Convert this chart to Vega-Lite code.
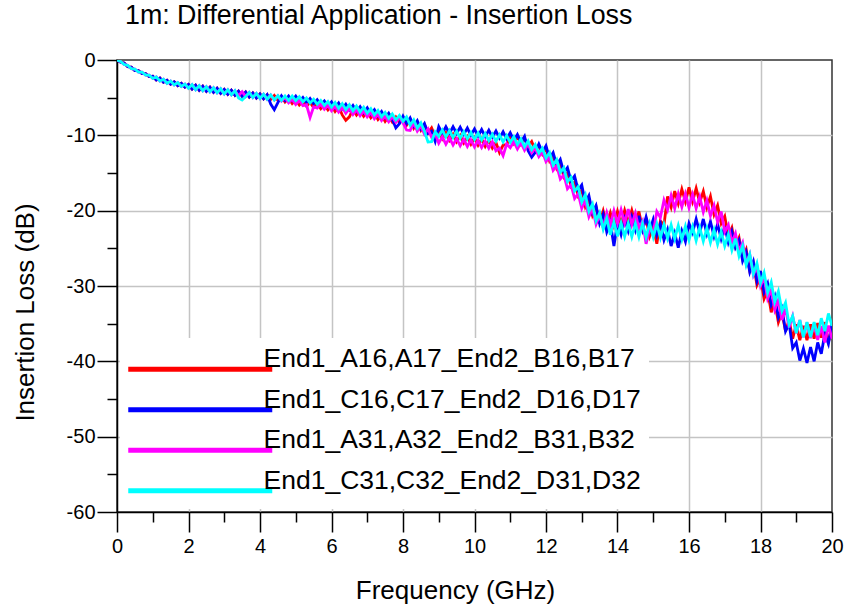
{
  "$schema": "https://vega.github.io/schema/vega-lite/v6.json",
  "autosize": {"type": "none"},
  "width": 715,
  "height": 452,
  "padding": {"left": 117, "top": 60, "right": 15, "bottom": 98},
  "background": "white",
  "title": {"text": "1m: Differential Application - Insertion Loss", "anchor": "start", "frame": "group", "fontSize": 26.8, "fontWeight": "normal", "font": "Liberation Sans", "color": "black", "dx": 8, "offset": -1, "baseline": "alphabetic"},
  "config": {
    "font": "Liberation Sans",
    "view": {"stroke": "#333333", "strokeWidth": 1.5}
  },
  "data": {"values": [
    {"f":0.0,"a":0,"b":0,"c":0,"d":0},
    {"f":0.1,"a":-0.3,"b":-0.3,"c":-0.2,"d":-0.2},
    {"f":0.2,"a":-0.4,"b":-0.4,"c":-0.6,"d":-0.6},
    {"f":0.3,"a":-0.9,"b":-0.9,"c":-0.7,"d":-0.7},
    {"f":0.4,"a":-0.95,"b":-0.95,"c":-1.15,"d":-1.15},
    {"f":0.5,"a":-1.4,"b":-1.4,"c":-1.2,"d":-1.2},
    {"f":0.6,"a":-1.4,"b":-1.4,"c":-1.6,"d":-1.6},
    {"f":0.7,"a":-1.8,"b":-1.8,"c":-1.6,"d":-1.6},
    {"f":0.8,"a":-1.8,"b":-1.8,"c":-2.0,"d":-2.0},
    {"f":0.9,"a":-2.2,"b":-2.2,"c":-2.0,"d":-2.0},
    {"f":1.0,"a":-2.15,"b":-2.15,"c":-2.45,"d":-2.45},
    {"f":1.1,"a":-2.65,"b":-2.65,"c":-2.25,"d":-2.25},
    {"f":1.2,"a":-2.4,"b":-2.4,"c":-2.8,"d":-2.8},
    {"f":1.3,"a":-2.95,"b":-2.95,"c":-2.55,"d":-2.55},
    {"f":1.4,"a":-2.7,"b":-2.7,"c":-3.1,"d":-3.1},
    {"f":1.5,"a":-3.2,"b":-3.2,"c":-2.8,"d":-2.8},
    {"f":1.6,"a":-2.9,"b":-2.9,"c":-3.3,"d":-3.3},
    {"f":1.7,"a":-3.4,"b":-3.4,"c":-3.0,"d":-3.0},
    {"f":1.8,"a":-3.1,"b":-3.1,"c":-3.5,"d":-3.5},
    {"f":1.9,"a":-3.6,"b":-3.6,"c":-3.2,"d":-3.2},
    {"f":2.0,"a":-3.25,"b":-3.25,"c":-3.75,"d":-3.75},
    {"f":2.1,"a":-3.87,"b":-3.87,"c":-3.27,"d":-3.27},
    {"f":2.2,"a":-3.34,"b":-3.34,"c":-3.94,"d":-3.94},
    {"f":2.3,"a":-4.01,"b":-4.01,"c":-3.41,"d":-3.41},
    {"f":2.4,"a":-3.48,"b":-3.48,"c":-4.08,"d":-4.08},
    {"f":2.5,"a":-4.15,"b":-4.15,"c":-3.55,"d":-3.55},
    {"f":2.6,"a":-3.62,"b":-3.62,"c":-4.22,"d":-4.22},
    {"f":2.7,"a":-4.29,"b":-4.29,"c":-3.69,"d":-3.69},
    {"f":2.8,"a":-3.76,"b":-3.76,"c":-4.36,"d":-4.36},
    {"f":2.9,"a":-4.43,"b":-4.43,"c":-3.83,"d":-3.83},
    {"f":3.0,"a":-3.9,"b":-3.9,"c":-4.5,"d":-4.5},
    {"f":3.1,"a":-4.56,"b":-4.56,"c":-3.96,"d":-3.96},
    {"f":3.2,"a":-4.02,"b":-4.02,"c":-4.62,"d":-4.62},
    {"f":3.3,"a":-4.68,"b":-4.68,"c":-4.08,"d":-4.08},
    {"f":3.4,"a":-4.14,"b":-4.14,"c":-4.74,"d":-5.04},
    {"f":3.5,"a":-4.8,"b":-4.8,"c":-4.2,"d":-5.3},
    {"f":3.6,"a":-4.26,"b":-4.26,"c":-4.86,"d":-4.86},
    {"f":3.7,"a":-4.92,"b":-4.92,"c":-4.32,"d":-4.32},
    {"f":3.8,"a":-4.38,"b":-4.38,"c":-4.98,"d":-4.98},
    {"f":3.9,"a":-5.04,"b":-5.04,"c":-4.44,"d":-4.44},
    {"f":4.0,"a":-4.5,"b":-4.5,"c":-5.1,"d":-5.1},
    {"f":4.1,"a":-5.15,"b":-5.15,"c":-4.55,"d":-4.55},
    {"f":4.2,"a":-4.6,"b":-4.6,"c":-5.2,"d":-5.2},
    {"f":4.3,"a":-5.25,"b":-5.85,"c":-4.65,"d":-4.65},
    {"f":4.4,"a":-4.7,"b":-6.6,"c":-5.3,"d":-5.3},
    {"f":4.5,"a":-5.35,"b":-5.65,"c":-4.75,"d":-4.75},
    {"f":4.6,"a":-4.86,"b":-4.76,"c":-5.46,"d":-5.36},
    {"f":4.7,"a":-5.57,"b":-5.37,"c":-4.97,"d":-4.77},
    {"f":4.8,"a":-5.08,"b":-4.78,"c":-5.68,"d":-5.38},
    {"f":4.9,"a":-5.79,"b":-5.39,"c":-5.19,"d":-4.79},
    {"f":5.0,"a":-5.3,"b":-4.8,"c":-5.9,"d":-5.4},
    {"f":5.1,"a":-5.98,"b":-5.48,"c":-5.38,"d":-4.88},
    {"f":5.2,"a":-5.46,"b":-4.96,"c":-6.06,"d":-5.56},
    {"f":5.3,"a":-6.14,"b":-5.64,"c":-5.94,"d":-5.04},
    {"f":5.4,"a":-5.62,"b":-5.12,"c":-7.62,"d":-5.72},
    {"f":5.5,"a":-6.3,"b":-5.8,"c":-6.2,"d":-5.2},
    {"f":5.6,"a":-5.78,"b":-5.28,"c":-6.38,"d":-5.88},
    {"f":5.7,"a":-6.46,"b":-5.96,"c":-5.86,"d":-5.36},
    {"f":5.8,"a":-5.94,"b":-5.44,"c":-6.54,"d":-6.04},
    {"f":5.9,"a":-6.62,"b":-6.12,"c":-6.02,"d":-5.52},
    {"f":6.0,"a":-6.05,"b":-5.55,"c":-6.75,"d":-6.25},
    {"f":6.1,"a":-6.83,"b":-6.33,"c":-6.13,"d":-5.63},
    {"f":6.2,"a":-6.21,"b":-5.71,"c":-6.91,"d":-6.41},
    {"f":6.3,"a":-7.29,"b":-6.49,"c":-6.29,"d":-5.79},
    {"f":6.4,"a":-8.0,"b":-5.87,"c":-7.07,"d":-6.57},
    {"f":6.5,"a":-7.55,"b":-6.65,"c":-6.45,"d":-5.95},
    {"f":6.6,"a":-6.53,"b":-6.03,"c":-7.23,"d":-6.73},
    {"f":6.7,"a":-7.31,"b":-6.81,"c":-6.61,"d":-6.11},
    {"f":6.8,"a":-6.69,"b":-6.19,"c":-7.39,"d":-6.89},
    {"f":6.9,"a":-7.47,"b":-6.97,"c":-6.77,"d":-6.27},
    {"f":7.0,"a":-6.85,"b":-6.35,"c":-7.55,"d":-7.05},
    {"f":7.1,"a":-7.67,"b":-7.17,"c":-6.97,"d":-6.47},
    {"f":7.2,"a":-7.09,"b":-6.59,"c":-7.79,"d":-7.29},
    {"f":7.3,"a":-7.91,"b":-7.41,"c":-7.21,"d":-6.71},
    {"f":7.4,"a":-7.33,"b":-6.83,"c":-8.03,"d":-7.53},
    {"f":7.5,"a":-8.15,"b":-7.65,"c":-7.45,"d":-6.95},
    {"f":7.6,"a":-7.49,"b":-7.05,"c":-8.19,"d":-7.75},
    {"f":7.7,"a":-8.23,"b":-7.85,"c":-7.53,"d":-7.15},
    {"f":7.8,"a":-7.57,"b":-9.0,"c":-8.27,"d":-7.95},
    {"f":7.9,"a":-8.31,"b":-8.45,"c":-7.61,"d":-7.35},
    {"f":8.0,"a":-7.65,"b":-7.45,"c":-8.35,"d":-8.15},
    {"f":8.1,"a":-8.65,"b":-8.42,"c":-9.3,"d":-7.55},
    {"f":8.2,"a":-7.95,"b":-7.68,"c":-9.35,"d":-8.65},
    {"f":8.3,"a":-9.05,"b":-8.75,"c":-8.35,"d":-7.95},
    {"f":8.4,"a":-8.28,"b":-8.05,"c":-9.45,"d":-9.05},
    {"f":8.5,"a":-9.32,"b":-9.15,"c":-8.75,"d":-8.35},
    {"f":8.6,"a":-8.55,"b":-8.45,"c":-9.85,"d":-9.45},
    {"f":8.7,"a":-9.67,"b":-9.75,"c":-9.15,"d":-10.9},
    {"f":8.8,"a":-9.0,"b":-9.45,"c":-10.25,"d":-10.85},
    {"f":8.9,"a":-10.12,"b":-10.8,"c":-9.75,"d":-9.55},
    {"f":9.0,"a":-9.45,"b":-8.85,"c":-11.05,"d":-10.15},
    {"f":9.1,"a":-10.45,"b":-9.75,"c":-10.21,"d":-9.29},
    {"f":9.2,"a":-9.65,"b":-8.85,"c":-11.17,"d":-10.23},
    {"f":9.3,"a":-10.65,"b":-9.75,"c":-10.33,"d":-9.37},
    {"f":9.4,"a":-9.85,"b":-8.85,"c":-11.29,"d":-10.31},
    {"f":9.5,"a":-10.85,"b":-9.75,"c":-10.45,"d":-9.45},
    {"f":9.6,"a":-10.03,"b":-8.91,"c":-11.39,"d":-10.39},
    {"f":9.7,"a":-11.01,"b":-9.87,"c":-10.53,"d":-9.53},
    {"f":9.8,"a":-10.19,"b":-9.03,"c":-11.47,"d":-10.47},
    {"f":9.9,"a":-11.17,"b":-9.99,"c":-10.61,"d":-9.61},
    {"f":10.0,"a":-10.35,"b":-9.15,"c":-11.55,"d":-10.55},
    {"f":10.1,"a":-11.33,"b":-10.09,"c":-10.69,"d":-9.69},
    {"f":10.2,"a":-10.5,"b":-9.23,"c":-11.63,"d":-10.63},
    {"f":10.3,"a":-11.48,"b":-10.17,"c":-10.77,"d":-9.77},
    {"f":10.4,"a":-10.65,"b":-9.31,"c":-11.71,"d":-10.71},
    {"f":10.5,"a":-11.7,"b":-10.25,"c":-10.85,"d":-9.85},
    {"f":10.6,"a":-10.95,"b":-9.41,"c":-12.05,"d":-10.79},
    {"f":10.7,"a":-12.3,"b":-10.37,"c":-11.7,"d":-9.93},
    {"f":10.8,"a":-11.3,"b":-9.53,"c":-12.7,"d":-10.87},
    {"f":10.9,"a":-11.25,"b":-10.49,"c":-11.15,"d":-10.01},
    {"f":11.0,"a":-10.25,"b":-9.65,"c":-11.65,"d":-10.95},
    {"f":11.1,"a":-11.08,"b":-10.68,"c":-10.83,"d":-10.19},
    {"f":11.2,"a":-10.15,"b":-9.9,"c":-11.81,"d":-11.23},
    {"f":11.3,"a":-11.18,"b":-10.93,"c":-10.99,"d":-10.47},
    {"f":11.4,"a":-10.42,"b":-10.15,"c":-11.97,"d":-11.51},
    {"f":11.5,"a":-11.45,"b":-12.05,"c":-11.15,"d":-10.75},
    {"f":11.6,"a":-10.82,"b":-12.9,"c":-12.31,"d":-11.89},
    {"f":11.7,"a":-11.98,"b":-12.25,"c":-11.67,"d":-11.23},
    {"f":11.8,"a":-11.35,"b":-11.15,"c":-12.83,"d":-12.37},
    {"f":11.9,"a":-12.5,"b":-12.25,"c":-12.19,"d":-11.71},
    {"f":12.0,"a":-11.7,"b":-11.4,"c":-13.5,"d":-13.0},
    {"f":12.1,"a":-13.4,"b":-13.05,"c":-12.88,"d":-12.28},
    {"f":12.2,"a":-12.7,"b":-12.3,"c":-14.65,"d":-13.95},
    {"f":12.3,"a":-14.4,"b":-13.95,"c":-14.03,"d":-13.23},
    {"f":12.4,"a":-13.7,"b":-13.2,"c":-15.8,"d":-14.9},
    {"f":12.5,"a":-15.52,"b":-14.95,"c":-15.25,"d":-14.32},
    {"f":12.6,"a":-14.95,"b":-14.3,"c":-17.1,"d":-16.15},
    {"f":12.7,"a":-16.77,"b":-16.05,"c":-16.55,"d":-15.57},
    {"f":12.8,"a":-16.2,"b":-15.4,"c":-18.4,"d":-17.4},
    {"f":12.9,"a":-18.02,"b":-17.3,"c":-17.75,"d":-16.82},
    {"f":13.0,"a":-17.25,"b":-16.6,"c":-19.7,"d":-18.85},
    {"f":13.1,"a":-19.47,"b":-18.9,"c":-18.65,"d":-17.87},
    {"f":13.2,"a":-18.5,"b":-18.0,"c":-20.8,"d":-20.1},
    {"f":13.3,"a":-20.6,"b":-20.27,"c":-19.7,"d":-19.13},
    {"f":13.4,"a":-19.5,"b":-19.33,"c":-21.8,"d":-21.37},
    {"f":13.5,"a":-21.7,"b":-21.7,"c":-20.6,"d":-20.3},
    {"f":13.6,"a":-20.03,"b":-20.47,"c":-22.23,"d":-22.47},
    {"f":13.7,"a":-21.97,"b":-22.83,"c":-20.27,"d":-21.03},
    {"f":13.8,"a":-20.3,"b":-21.6,"c":-21.9,"d":-23.2},
    {"f":13.9,"a":-22.0,"b":-24.7,"c":-20.0,"d":-21.5},
    {"f":14.0,"a":-20.1,"b":-21.6,"c":-21.7,"d":-23.4},
    {"f":14.1,"a":-21.83,"b":-23.17,"c":-19.87,"d":-21.62},
    {"f":14.2,"a":-19.97,"b":-21.13,"c":-21.63,"d":-23.44},
    {"f":14.3,"a":-21.7,"b":-22.7,"c":-19.8,"d":-21.66},
    {"f":14.4,"a":-19.97,"b":-20.83,"c":-21.87,"d":-23.48},
    {"f":14.5,"a":-21.83,"b":-22.57,"c":-20.33,"d":-21.7},
    {"f":14.6,"a":-20.1,"b":-20.7,"c":-22.4,"d":-23.5},
    {"f":14.7,"a":-22.4,"b":-22.57,"c":-21.4,"d":-21.7},
    {"f":14.8,"a":-21.1,"b":-20.83,"c":-24.4,"d":-23.5},
    {"f":14.9,"a":-23.4,"b":-22.7,"c":-22.4,"d":-21.7},
    {"f":15.0,"a":-22.1,"b":-21.17,"c":-22.9,"d":-23.5},
    {"f":15.1,"a":-24.4,"b":-23.23,"c":-20.1,"d":-21.74},
    {"f":15.2,"a":-21.35,"b":-21.7,"c":-20.9,"d":-23.58},
    {"f":15.3,"a":-21.9,"b":-23.9,"c":-18.6,"d":-21.82},
    {"f":15.4,"a":-18.1,"b":-22.5,"c":-19.9,"d":-23.66},
    {"f":15.5,"a":-19.55,"b":-24.7,"c":-18.0,"d":-21.9},
    {"f":15.6,"a":-17.4,"b":-23.0,"c":-19.7,"d":-23.74},
    {"f":15.7,"a":-19.07,"b":-24.9,"c":-17.8,"d":-21.98},
    {"f":15.8,"a":-17.15,"b":-22.7,"c":-19.5,"d":-23.82},
    {"f":15.9,"a":-18.82,"b":-24.1,"c":-17.75,"d":-22.06},
    {"f":16.0,"a":-16.9,"b":-21.7,"c":-19.6,"d":-23.9},
    {"f":16.1,"a":-18.77,"b":-22.9,"c":-17.85,"d":-22.14},
    {"f":16.2,"a":-17.03,"b":-21.1,"c":-19.7,"d":-23.98},
    {"f":16.3,"a":-18.9,"b":-22.9,"c":-18.15,"d":-22.22},
    {"f":16.4,"a":-17.43,"b":-21.1,"c":-20.2,"d":-24.06},
    {"f":16.5,"a":-19.57,"b":-23.07,"c":-18.65,"d":-22.3},
    {"f":16.6,"a":-18.1,"b":-21.43,"c":-20.7,"d":-24.22},
    {"f":16.7,"a":-20.5,"b":-23.4,"c":-19.3,"d":-22.54},
    {"f":16.8,"a":-19.3,"b":-21.77,"c":-21.5,"d":-24.46},
    {"f":16.9,"a":-21.7,"b":-23.73,"c":-20.1,"d":-22.78},
    {"f":17.0,"a":-20.75,"b":-22.1,"c":-22.8,"d":-24.7},
    {"f":17.1,"a":-23.4,"b":-24.23,"c":-21.9,"d":-23.17},
    {"f":17.2,"a":-22.27,"b":-22.77,"c":-24.27,"d":-25.23},
    {"f":17.3,"a":-24.73,"b":-24.9,"c":-23.03,"d":-23.7},
    {"f":17.4,"a":-23.6,"b":-23.93,"c":-25.4,"d":-26.03},
    {"f":17.5,"a":-26.33,"b":-26.67,"c":-24.27,"d":-24.67},
    {"f":17.6,"a":-25.17,"b":-25.5,"c":-27.03,"d":-27.2},
    {"f":17.7,"a":-28.0,"b":-28.13,"c":-25.8,"d":-25.8},
    {"f":17.8,"a":-26.93,"b":-26.75,"c":-28.53,"d":-28.4},
    {"f":17.9,"a":-29.87,"b":-29.38,"c":-27.27,"d":-27.0},
    {"f":18.0,"a":-28.8,"b":-28.0,"c":-30.0,"d":-29.6},
    {"f":18.1,"a":-31.7,"b":-30.83,"c":-28.83,"d":-28.23},
    {"f":18.2,"a":-30.6,"b":-29.67,"c":-31.67,"d":-30.87},
    {"f":18.3,"a":-33.5,"b":-32.5,"c":-30.5,"d":-29.5},
    {"f":18.4,"a":-32.17,"b":-31.33,"c":-33.17,"d":-32.1},
    {"f":18.5,"a":-34.83,"b":-34.17,"c":-31.83,"d":-30.7},
    {"f":18.6,"a":-33.5,"b":-33.0,"c":-34.5,"d":-33.3},
    {"f":18.7,"a":-36.0,"b":-36.0,"c":-33.0,"d":-32.2},
    {"f":18.8,"a":-34.5,"b":-35.0,"c":-35.5,"d":-35.1},
    {"f":18.9,"a":-37.0,"b":-38.25,"c":-34.0,"d":-34.0},
    {"f":19.0,"a":-35.1,"b":-37.5,"c":-36.27,"d":-36.27},
    {"f":19.1,"a":-37.2,"b":-39.9,"c":-34.53,"d":-34.53},
    {"f":19.2,"a":-35.3,"b":-38.3,"c":-36.8,"d":-36.8},
    {"f":19.3,"a":-37.2,"b":-40.2,"c":-34.87,"d":-34.8},
    {"f":19.4,"a":-35.1,"b":-38.1,"c":-36.93,"d":-36.8},
    {"f":19.5,"a":-37.0,"b":-40.0,"c":-35.0,"d":-34.8},
    {"f":19.6,"a":-34.93,"b":-37.5,"c":-37.17,"d":-36.53},
    {"f":19.7,"a":-36.87,"b":-39.0,"c":-35.33,"d":-34.27},
    {"f":19.8,"a":-34.8,"b":-36.33,"c":-37.5,"d":-36.0},
    {"f":19.9,"a":-37.4,"b":-37.67,"c":-35.25,"d":-33.65},
    {"f":20.0,"a":-36.0,"b":-35.0,"c":-37.0,"d":-35.3}
  ]},
  "transform": [{"fold": ["a", "b", "c", "d"]}],
  "mark": {"type": "line", "strokeWidth": 2.8, "clip": true},
  "encoding": {
    "x": {
      "field": "f", "type": "quantitative",
      "scale": {"domain": [0, 20], "nice": false, "zero": false},
      "axis": {
        "values": [0,1,2,3,4,5,6,7,8,9,10,11,12,13,14,15,16,17,18,19,20],
        "labelExpr": "datum.value % 2 === 0 ? '' + datum.value : ''",
        "tickSize": {"condition": {"test": "datum.value % 2 === 0", "value": 20}, "value": 10},
        "gridOpacity": {"condition": {"test": "datum.value % 2 === 0 && datum.value > 0 && datum.value < 20", "value": 1}, "value": 0},
        "grid": true,
        "gridColor": "#c4c4c4",
        "gridWidth": 1.5,
        "domainColor": "black",
        "domainWidth": 1.5,
        "tickColor": "black",
        "tickWidth": 1.5,
        "labelFontSize": 20,
        "labelColor": "black",
        "labelFont": "Liberation Sans",
        "labelPadding": 4,
        "labelFlush": false,
        "labelOverlap": false,
        "title": "Frequency (GHz)",
        "titleFont": "Liberation Sans",
        "titleFontSize": 26,
        "titleFontWeight": "normal",
        "titleColor": "black",
        "titleX": 338,
        "titleY": 86,
        "titleAlign": "center",
        "titleBaseline": "alphabetic"
      }
    },
    "y": {
      "field": "value", "type": "quantitative",
      "scale": {"domain": [-60, 0], "nice": false, "zero": false},
      "axis": {
        "values": [-60,-55,-50,-45,-40,-35,-30,-25,-20,-15,-10,-5,0],
        "labelExpr": "datum.value % 10 === 0 ? '' + datum.value : ''",
        "tickSize": {"condition": {"test": "datum.value % 10 === 0", "value": 20}, "value": 10},
        "gridOpacity": {"condition": {"test": "datum.value % 10 === 0 && datum.value > -60 && datum.value < 0", "value": 1}, "value": 0},
        "grid": true,
        "gridColor": "#c4c4c4",
        "gridWidth": 1.5,
        "domainColor": "black",
        "domainWidth": 1.5,
        "tickColor": "black",
        "tickWidth": 1.5,
        "labelFontSize": 20,
        "labelColor": "black",
        "labelFont": "Liberation Sans",
        "labelPadding": 2,
        "labelOverlap": false,
        "title": "Insertion Loss (dB)",
        "titleFont": "Liberation Sans",
        "titleFontSize": 26,
        "titleFontWeight": "normal",
        "titleColor": "black",
        "titleAngle": -90,
        "titleX": -84,
        "titleY": 252,
        "titleAlign": "center",
        "titleBaseline": "alphabetic"
      }
    },
    "color": {
      "field": "key", "type": "nominal",
      "scale": {"domain": ["a", "b", "c", "d"], "range": ["#ff0000", "#0000ff", "#ff00ff", "#00ffff"]},
      "legend": {
        "title": null,
        "orient": "none",
        "legendX": 3,
        "legendY": 278,
        "direction": "vertical",
        "fillColor": "white",
        "padding": 8,
        "symbolType": "M0,10H144",
        "symbolSize": 4,
        "symbolStrokeWidth": 5,
        "symbolOffset": -13,
        "labelOffset": 122,
        "labelFontSize": 26.5,
        "labelFont": "Liberation Sans",
        "labelColor": "black",
        "labelLimit": 700,
        "rowPadding": 6.5,
        "labelExpr": "datum.label == 'a' ? 'End1_A16,A17_End2_B16,B17' : datum.label == 'b' ? 'End1_C16,C17_End2_D16,D17' : datum.label == 'c' ? 'End1_A31,A32_End2_B31,B32' : 'End1_C31,C32_End2_D31,D32'"
      }
    }
  }
}
